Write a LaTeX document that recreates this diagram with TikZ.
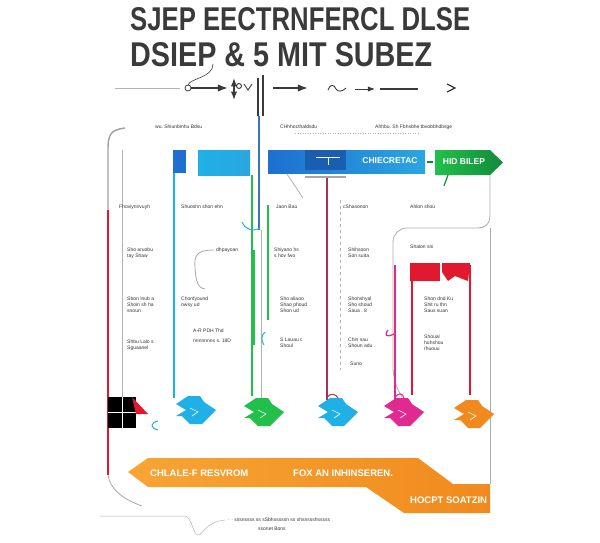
\documentclass[tikz,border=0pt]{standalone}
\usepackage{fontspec}
\setmainfont{Liberation Sans}
\usetikzlibrary{positioning, calc, arrows.meta}
\definecolor{ttlgray}{HTML}{3A3A3A}
\definecolor{bluea}{HTML}{1E6FD0}
\definecolor{blueb}{HTML}{2BA6E2}
\definecolor{cyana}{HTML}{1FB0E6}
\definecolor{greena}{HTML}{22C04A}
\definecolor{greenb}{HTML}{128A3C}
\definecolor{plum}{HTML}{A8305E}
\definecolor{pinka}{HTML}{E02A90}
\definecolor{reda}{HTML}{E0192E}
\definecolor{oranga}{HTML}{F7A535}
\definecolor{orangb}{HTML}{F08A1E}
\newcommand{\fitbox}[3]{\resizebox{#1}{#2}{#3}}

\begin{document}
\begin{tikzpicture}[x=1pt, y=-1pt,
  tiny/.style={font=\fontsize{5}{5.8}\selectfont, text=black!80, align=left, anchor=west, inner sep=0pt},
  ttl/.style={text=ttlgray, anchor=west, inner sep=0pt, font=\bfseries},
  colline/.style={line width=2.2pt},
  thinline/.style={draw=gray!60, line width=0.5pt},
  bartext/.style={text=white, font=\bfseries\fontsize{8.5}{9}\selectfont, inner sep=0pt},
  bantext/.style={text=white, font=\bfseries\fontsize{9.5}{10}\selectfont, inner sep=0pt},
  pics/tipshape/.style={code={
    \fill[#1] (-20,-6) -- (-8,-14) -- (4,-14) -- (8,-8) -- (20,0) -- (6,14) -- (-6,14) -- (-14,6) -- (-20,6) -- (-10,0) -- cycle;
    \draw[white, line width=0.6pt] (-6,-2) -- (2,2) -- (-4,6);}}
  ]
  \useasboundingbox (0,0) rectangle (600,543);
  % title
  \node[ttl] (ttlA) at (130,19) {\fitbox{340pt}{23pt}{SJEP EECTRNFERCL DLSE}};
  \node[ttl] (ttlB) at (130,55) {\fitbox{302pt}{24pt}{DSIEP \& 5 MIT SUBEZ}};
  % title rule
  \coordinate (ruleA) at (115,88);
  \coordinate (ruleB) at (180,88);
  \coordinate (ring) at (188,88);
  \draw[thinline, line width=0.7pt] (ruleA) -- (ruleB);
  \draw[ttlgray, line width=0.8pt] (ring) circle (3);
  \draw[ttlgray, line width=0.6pt] (213,64) .. controls (213,78) and (190,78) .. (188,85);
  \draw[-{Latex}, line width=1.6pt, ttlgray] (191,88) -- (228,88);
  \draw[{Latex}-{Latex}, line width=1.2pt, ttlgray] (234,78) -- (234,100);
  \draw[ttlgray, line width=0.9pt] (239,86) circle (2.5) (244,84) -- (248,90) -- (252,84);
  \draw[ttlgray, line width=1.2pt] (258,78) -- (258,116) (263,75) -- (263,116);
  \draw[-{Latex}, line width=1.6pt, ttlgray] (273,88) -- (308,88);
  \draw[ttlgray, line width=0.9pt] (328,90) .. controls (330,84) and (334,84) .. (336,89) .. controls (338,92) and (342,92) .. (346,88);
  \draw[-{Latex}, line width=0.9pt, ttlgray] (355,89) -- (375,89);
  \draw[ttlgray, line width=1.2pt] (380,89) -- (418,89);
  \draw[ttlgray, line width=1.2pt] (447,84) -- (455,88) -- (447,92);
  % header labels
  \node[tiny] (hdA) at (155,127) {wu.\ Shiunbinhu Bdsu};
  \node[tiny] (hdB) at (280,127) {CHhhocthaldsdu};
  \node[tiny] (hdC) at (375,127) {Ahhbu.\ Sh Fbhsbhe tbvobbhdbsge};
  \draw[thinline, dotted] (295,133) -- (420,133);
  % bars
  \fill[bluea] (173,150) rectangle (186,173);
  \shade[left color=cyana, right color=blueb] (198,150) rectangle (250,175);
  \shade[left color=bluea, right color=blueb] (268,150) rectangle (425,173);
  \fill[bluea!85!black] (305,150) rectangle (346,170);
  \draw[white, line width=1pt] (316,157) -- (340,157) (328,157) -- (328,165);
  \node[bartext] (barA) at (390,161) {CHIECRETAC};
  \shade[left color=greena, right color=greenb] (435,150) -- (490,150) -- (503,162.5) -- (490,175) -- (435,175) -- cycle;
  \draw[greenb, line width=1.5pt] (427,162) -- (433,162);
  \draw[greenb, line width=1.2pt] (448,175) -- (444,186);
  \node[bartext] (barB) at (464,162) {HID BILEP};
  % vertical lines
  \draw[gray!75, line width=1.4pt] (125,128) .. controls (110,130) and (108,135) .. (108,150) -- (108,210);
  \draw[reda, colline] (108,210) -- (108,475);
  \draw[gray!70, line width=0.8pt] (108,475) .. controls (110,490) and (125,500) .. (142,506);
  \draw[thinline] (122,150) -- (122,400);
  \draw[cyana, colline] (174,173) -- (174,398);
  \draw[greena, line width=1.4pt] (252,175) -- (252,396);
  \draw[bluea!70!gray, line width=1.2pt] (259,116) -- (259,230);
  \draw[thinline] (261,230) -- (261,400);
  \draw[greena, colline] (268,205) -- (268,320);
  \draw[greena, line width=1.2pt] (254,250) -- (254,345);
  \draw[gray!70, line width=1.6pt] (305,177) -- (346,177);
  \draw[gray!60, line width=0.8pt] (287,174) -- (303,198);
  \draw[plum, colline] (327,178) -- (327,400);
  \draw[thinline, dashed] (340,200) -- (340,370);
  \draw[gray!65, line width=0.8pt] (490,175) -- (490,215) .. controls (490,225) and (484,228) .. (478,228);
  \draw[gray!65, line width=0.8pt, rounded corners=14] (402,397) -- (393,382) -- (393,228) -- (478,228);
  \draw[gray!65, line width=0.8pt] (490,228) -- (490,484);
  \draw[pinka, colline] (395,265) -- (395,400);
  \draw[reda, line width=1.2pt] (412,272) -- (412,395);
  \draw[reda, line width=1.6pt] (470,265) -- (470,395);
  \fill[reda] (410,263) rectangle (440,281);
  \fill[reda] (442,263) -- (470,263) -- (468,281) -- (455,276) -- (448,281) -- (442,272) -- cycle;
  % small hooks
  \draw[gray!70, line width=0.8pt] (214,250) .. controls (196,250) and (194,256) .. (195,268) .. controls (196,282) and (198,288) .. (205,289);
  \draw[cyana, line width=1pt] (242,222) .. controls (246,230) and (252,232) .. (260,228);
  \draw[cyana, line width=1pt] (265,332) .. controls (260,336) and (262,342) .. (264,345);
  \draw[pinka, line width=1.2pt] (388,330) .. controls (384,335) and (386,338) .. (394,334);
  % column texts
  \node[tiny] (a1) at (119,207) {Fhoviynnvuyh};
  \node[tiny] (a2) at (127,253) {Sho aruobu\\tay Shaw};
  \node[tiny] (a3) at (127,305) {Sbon Inub a\\Shoin sh ha\\snoun};
  \node[tiny] (a4) at (127,345) {Shbu Lalo s\\Sguaanel};
  \node[tiny] (b1) at (181,207) {Shuoshn shon ehn};
  \node[tiny] (b2) at (216,250) {dhpayoan};
  \node[tiny] (b3) at (181,302) {Chonfyound\\owsy ud};
  \node[tiny] (b4) at (193,331) {A-R PDH Thd};
  \node[tiny] (b5) at (193,341) {nnnnnnns s.\ 18D};
  \node[tiny] (d1) at (276,207) {Jaon Bau};
  \node[tiny] (d2) at (274,253) {Shiyano hs\\s hov fwo};
  \node[tiny] (d3) at (280,305) {Sho aliaoo\\Shao phoud\\Shon ud};
  \node[tiny] (d4) at (280,343) {S Lauau c\\Shoul};
  \node[tiny] (e1) at (343,207) {cShasonon};
  \node[tiny] (e2) at (348,253) {Shihsoon\\Son suita};
  \node[tiny] (e3) at (348,305) {Shonshyal\\Sho shoud\\Saua .\ 8};
  \node[tiny] (e4) at (348,343) {Chin sau\\Shoun adu};
  \node[tiny] (e5) at (350,364) {Suno};
  \node[tiny] (f1) at (410,207) {Ahlon shou};
  \node[tiny] (f2) at (410,247) {Shalon sni};
  \node[tiny] (f3) at (424,305) {Shon dnd Ku\\Shit ru thn\\Saus suan};
  \node[tiny] (f4) at (424,343) {Shoual\\huhshou\\rhuouu};
  % bottom icons
  \fill[black] (108,397) rectangle (136,428);
  \draw[white, line width=0.8pt] (108,412) -- (136,412) (122,397) -- (122,428);
  \fill[reda] (132,397) -- (148,414) -- (136,414) -- cycle;
  \draw[cyana, line width=1pt] (158,421) .. controls (150,423) and (150,428) .. (158,430);
  \pic at (196,410) {tipshape=cyana};
  \pic at (264,412) {tipshape=greena};
  \pic at (338,412) {tipshape=cyana};
  \pic at (404,412) {tipshape=pinka};
  \pic at (474,414) {tipshape=orangb};
  % connectors to icons
  \draw[plum, line width=1pt] (327,398) .. controls (330,392) and (336,394) .. (338,398);
  \draw[pinka, line width=1pt] (395,398) .. controls (398,392) and (403,393) .. (404,398);
  % banner
  \shade[left color=oranga, right color=orangb] (128,472) -- (148,458) -- (418,458) -- (453,484) -- (490,484) -- (490,513) -- (404,513) -- (366,487) -- (148,487) -- cycle;
  \node[bantext, anchor=west] (bnA) at (150,473) {CHLALE-F RESVROM};
  \node[bantext, anchor=west] (bnB) at (293,473) {FOX AN INHINSEREN.};
  \node[bantext, anchor=west] (bnC) at (410,500) {HOCPT SOATZIN};
  % footer
  \coordinate (ftA) at (100,516);
  \coordinate (ftB) at (225,520);
  \draw[thinline] (ftA) -- (185,516) .. controls (192,517) and (193,535) .. (198,535) .. controls (203,535) and (205,522) .. (ftB);
  \node[tiny] (ftC) at (228,520) {\textperiodcentered\ \textperiodcentered\ sssnssss ss\ sSbhsssssn ss shsnssshsssss};
  \node[tiny] (ftD) at (258,529) {ssonet Bons};
\end{tikzpicture}
\end{document}
